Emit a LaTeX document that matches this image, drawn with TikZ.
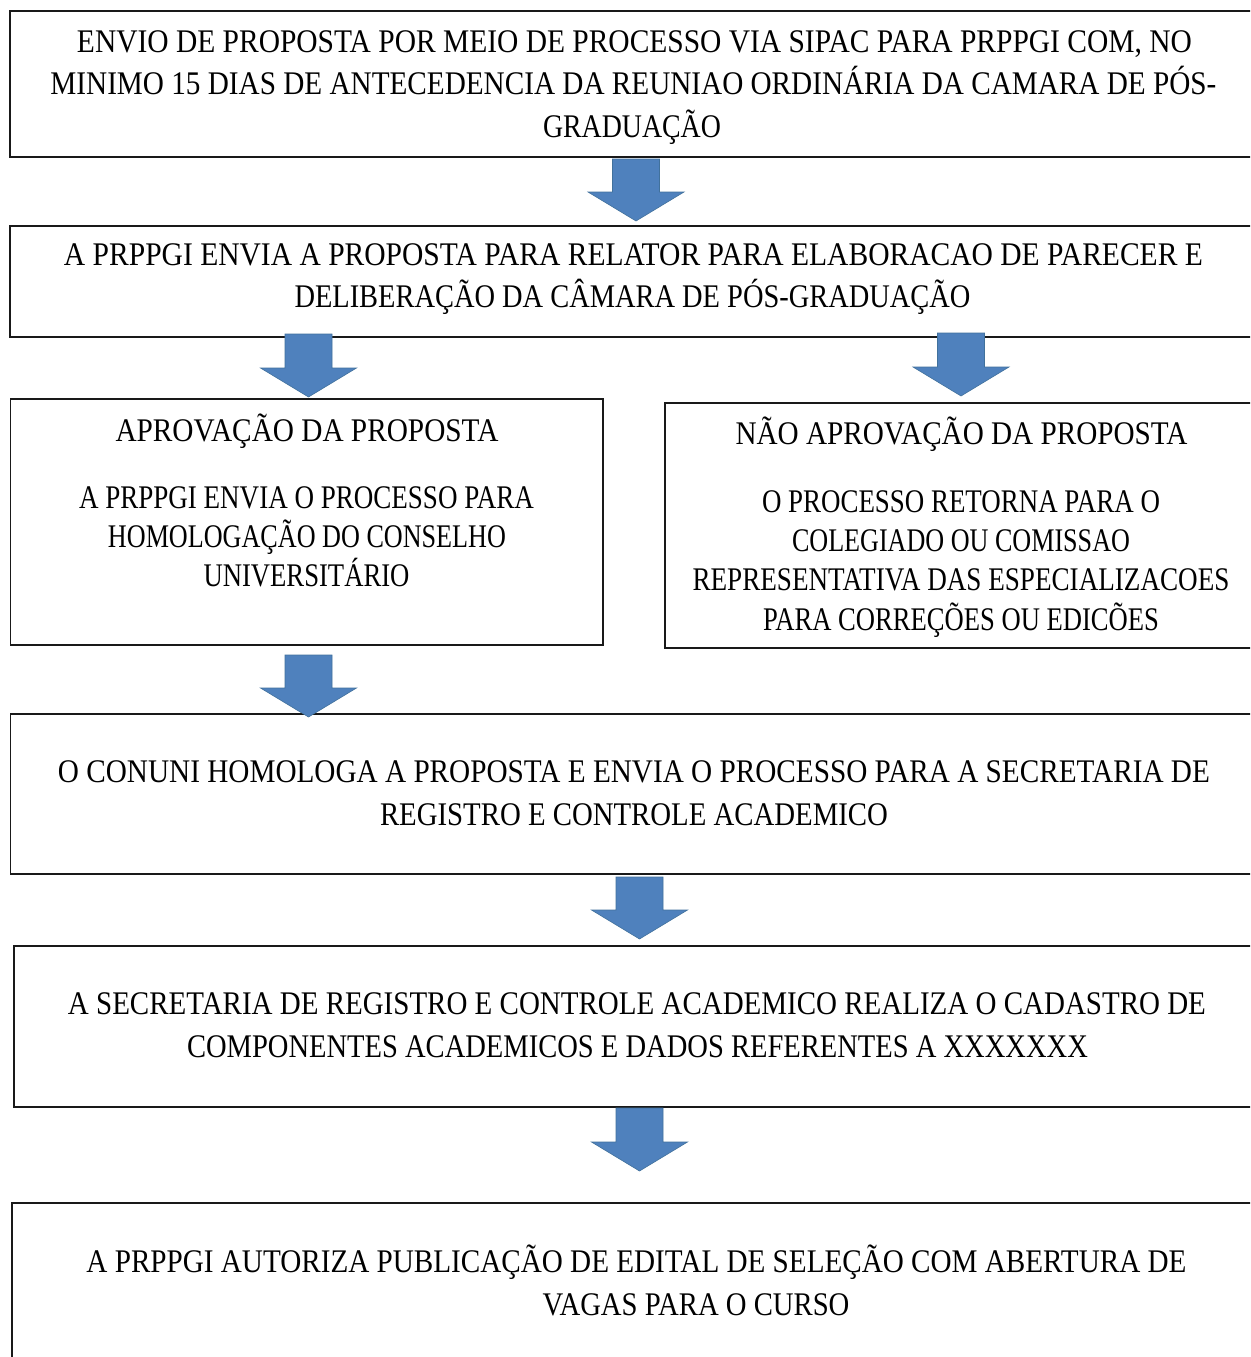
\documentclass[tikz,border=0pt]{standalone}
\usepackage{graphicx}
\usepackage{fontspec}
\setmainfont{Liberation Serif}
\definecolor{arrowblue}{HTML}{4F81BD}
\definecolor{arrowedge}{HTML}{41719C}
\tikzset{
  box/.style={draw=black!90, line width=1.6pt, inner sep=0pt},
  txt/.style={anchor=base, inner sep=0pt, font=\fontsize{33}{38}\selectfont},
  blockarrow/.style={fill=arrowblue, draw=arrowedge, line width=0.6pt, line join=miter},
}
\newcommand\fitw[2]{\resizebox{#1pt}{\height}{#2}}
\newcommand\blockarr[4]{% cx, ytop, yhead, ytip
  \draw[blockarrow] (#1-23.5,#2) -- (#1+23.5,#2) -- (#1+23.5,#3) -- (#1+48,#3)
    -- (#1,#4) -- (#1-48,#3) -- (#1-23.5,#3) -- cycle;}
\begin{document}
\begin{tikzpicture}[x=1pt,y=-1pt]
\useasboundingbox (0,0) rectangle (1250,1357);
\clip (0,0) rectangle (1250,1357);
\fill[white] (0,0) rectangle (1250,1357);
% boxes
\draw[box] (10,11) rectangle (1262,157);
\draw[box] (10,226) rectangle (1262,337);
\draw[box] (10.5,399) rectangle (603,645);
\draw[box] (665,403) rectangle (1262,648);
\draw[box] (10.5,714) rectangle (1262,874);
\draw[box] (14,946) rectangle (1262,1107);
\draw[box] (12,1203) rectangle (1262,1380);
% texts
\node[txt] (t1a) at (634.5,52) {\fitw{1115}{ENVIO DE PROPOSTA POR MEIO DE PROCESSO VIA SIPAC PARA PRPPGI COM, NO}};
\node[txt] (t1b) at (633.5,94.5) {\fitw{1166}{MINIMO 15 DIAS DE ANTECEDENCIA DA REUNIAO ORDINÁRIA DA CAMARA DE PÓS-}};
\node[txt] (t1c) at (632,137) {\fitw{178}{GRADUAÇÃO}};
\node[txt] (t2a) at (633.5,265) {\fitw{1139}{A PRPPGI ENVIA A PROPOSTA PARA RELATOR PARA ELABORACAO DE PARECER E}};
\node[txt] (t2b) at (632.5,307.5) {\fitw{676}{DELIBERAÇÃO DA CÂMARA DE PÓS-GRADUAÇÃO}};
\node[txt] (t3a) at (307,441) {\fitw{383}{APROVAÇÃO DA PROPOSTA}};
\node[txt] (t3b) at (306.5,508) {\fitw{455}{A PRPPGI ENVIA O PROCESSO PARA}};
\node[txt] (t3c) at (307,547) {\fitw{398}{HOMOLOGAÇÃO DO CONSELHO}};
\node[txt] (t3d) at (306.5,586) {\fitw{206}{UNIVERSITÁRIO}};
\node[txt] (t4a) at (961.5,444) {\fitw{452}{NÃO APROVAÇÃO DA PROPOSTA}};
\node[txt] (t4b) at (961,512) {\fitw{398}{O PROCESSO RETORNA PARA O}};
\node[txt] (t4c) at (961,551) {\fitw{338}{COLEGIADO OU COMISSAO}};
\node[txt] (t4d) at (961,590.5) {\fitw{537}{REPRESENTATIVA DAS ESPECIALIZACOES}};
\node[txt] (t4e) at (961,630) {\fitw{396}{PARA CORREÇÕES OU EDICÕES}};
\node[txt] (t5a) at (634,782) {\fitw{1152}{O CONUNI HOMOLOGA A PROPOSTA E ENVIA O PROCESSO PARA A SECRETARIA DE}};
\node[txt] (t5b) at (634,825) {\fitw{508}{REGISTRO E CONTROLE ACADEMICO}};
\node[txt] (t6a) at (637,1014) {\fitw{1138}{A SECRETARIA DE REGISTRO E CONTROLE ACADEMICO REALIZA O CADASTRO DE}};
\node[txt] (t6b) at (637.5,1057) {\fitw{901}{COMPONENTES ACADEMICOS E DADOS REFERENTES A XXXXXXX}};
\node[txt] (t7a) at (636.5,1272) {\fitw{1100}{A PRPPGI AUTORIZA PUBLICAÇÃO DE EDITAL DE SELEÇÃO COM ABERTURA DE}};
\node[txt] (t7b) at (696,1315) {\fitw{307}{VAGAS PARA O CURSO}};
% arrows
\blockarr{636}{159}{192}{221}
\blockarr{308.5}{334}{368}{397}
\blockarr{961}{333}{367}{396}
\blockarr{308.5}{655}{688}{717}
\blockarr{639.5}{877}{910}{939}
\blockarr{639.5}{1108}{1142}{1171}
\end{tikzpicture}
\end{document}
